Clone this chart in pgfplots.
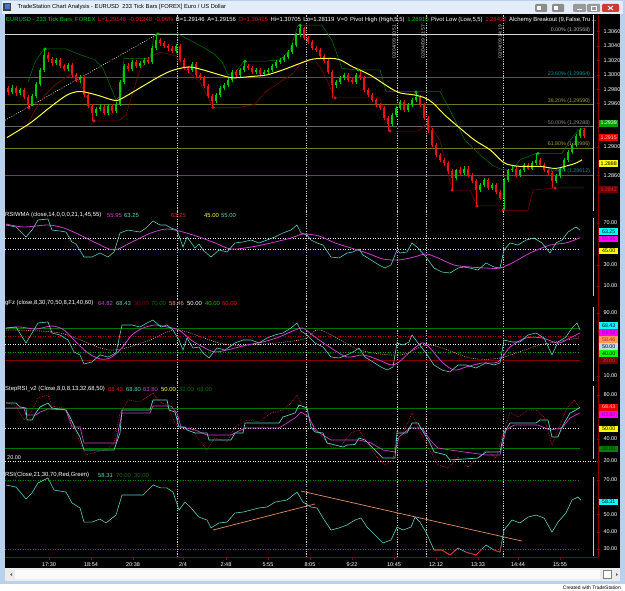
\documentclass[border=0pt]{standalone}
\usepackage{fontspec}
\setmainfont{Liberation Sans}
\usepackage{pgfplots}
\pgfplotsset{compat=1.18}
\usepackage{pgfplotstable}

\definecolor{tcyan}{RGB}{95,205,190}
\definecolor{tmag}{RGB}{205,60,205}
\definecolor{tyel}{RGB}{255,255,70}
\definecolor{tgreen}{RGB}{0,200,0}
\definecolor{tred}{RGB}{235,20,20}
\definecolor{dkgreen}{RGB}{0,115,0}
\definecolor{dkred}{RGB}{130,0,0}
\definecolor{axred}{RGB}{140,0,0}
\definecolor{fteal}{RGB}{0,115,115}
\definecolor{folive}{RGB}{115,115,40}
\definecolor{orng}{RGB}{235,150,100}
\definecolor{salmon}{RGB}{225,140,100}
\definecolor{framec}{RGB}{185,209,234}
\definecolor{tbar}{RGB}{228,237,247}
\definecolor{vline}{RGB}{200,200,200}
\definecolor{gfzred}{RGB}{180,0,0}
\definecolor{lgreen}{RGB}{0,170,0}
\definecolor{rsigreen}{RGB}{0,140,0}
\definecolor{dotred}{RGB}{200,30,30}
\definecolor{fib0}{RGB}{215,215,215}
\definecolor{fibt}{RGB}{0,150,150}
\definecolor{fibo}{RGB}{160,160,60}
\definecolor{bxgreen}{RGB}{0,160,0}
\definecolor{bxred}{RGB}{235,0,0}
\definecolor{bxredtxt}{RGB}{255,200,200}
\definecolor{bxyel}{RGB}{255,255,0}
\definecolor{bxdkred}{RGB}{110,0,0}
\definecolor{bxdkredtxt}{RGB}{200,50,50}
\definecolor{bxcyan}{RGB}{0,255,255}
\definecolor{bxmag}{RGB}{255,0,255}
\definecolor{bxmagtxt}{RGB}{120,0,120}
\definecolor{bxorg}{RGB}{255,150,90}
\definecolor{bxorgtxt}{RGB}{140,60,20}
\definecolor{bxlb}{RGB}{190,215,240}
\definecolor{bxlg}{RGB}{0,255,0}
\definecolor{bxg2}{RGB}{0,128,0}
\definecolor{bxg2txt}{RGB}{0,40,0}
\definecolor{iconblue}{RGB}{60,120,200}
\definecolor{closered}{RGB}{205,60,45}
\definecolor{scrollbg}{RGB}{236,236,236}
\definecolor{scrolltr}{RGB}{250,250,250}

\pgfplotstableread{
x o h l c
12 1.2976 1.2986 1.2973 1.2982
20 1.2975 1.2982 1.2972 1.2979
32 1.2959 1.2973 1.2957 1.2971
36 1.2971 1.2990 1.2968 1.2987
40 1.2987 1.3009 1.2984 1.3007
44 1.3007 1.3036 1.3004 1.3028
56 1.3016 1.3023 1.3014 1.3021
68 1.3008 1.3016 1.3005 1.3014
80 1.2993 1.3000 1.2989 1.2997
96 1.2947 1.2955 1.2943 1.2952
100 1.2952 1.2959 1.2950 1.2955
108 1.2947 1.2959 1.2944 1.2957
116 1.2950 1.2962 1.2947 1.2959
120 1.2959 1.2993 1.2957 1.2990
124 1.2990 1.3015 1.2987 1.3012
132 1.3008 1.3021 1.3005 1.3018
140 1.3012 1.3019 1.3009 1.3016
144 1.3016 1.3023 1.3014 1.3021
152 1.3018 1.3040 1.3015 1.3037
156 1.3037 1.3057 1.3035 1.3048
176 1.3033 1.3043 1.3030 1.3040
192 1.3007 1.3018 1.3004 1.3015
216 1.2964 1.2975 1.2961 1.2972
220 1.2972 1.2984 1.2969 1.2982
224 1.2982 1.2989 1.2979 1.2986
228 1.2986 1.2996 1.2983 1.2993
232 1.2993 1.3007 1.2990 1.3004
240 1.3000 1.3009 1.2997 1.3007
244 1.3007 1.3019 1.3004 1.3012
256 1.3004 1.3009 1.3001 1.3007
264 1.3001 1.3007 1.2998 1.3004
268 1.3004 1.3009 1.3001 1.3007
272 1.3007 1.3015 1.3004 1.3012
276 1.3012 1.3021 1.3009 1.3018
280 1.3018 1.3023 1.3015 1.3021
284 1.3021 1.3028 1.3018 1.3025
288 1.3025 1.3035 1.3022 1.3032
292 1.3032 1.3044 1.3029 1.3041
296 1.3041 1.3058 1.3039 1.3055
300 1.3055 1.3069 1.3053 1.3065
336 1.2986 1.2993 1.2982 1.2990
340 1.2990 1.2998 1.2987 1.2996
344 1.2996 1.3003 1.2993 1.3000
356 1.2990 1.3003 1.2987 1.3000
392 1.2932 1.2947 1.2929 1.2944
396 1.2944 1.2957 1.2941 1.2954
400 1.2954 1.2965 1.2951 1.2962
408 1.2951 1.2961 1.2948 1.2958
412 1.2958 1.2968 1.2955 1.2965
416 1.2965 1.2976 1.2962 1.2969
456 1.2857 1.2870 1.2854 1.2868
464 1.2864 1.2873 1.2861 1.2870
480 1.2840 1.2850 1.2837 1.2847
484 1.2847 1.2857 1.2844 1.2854
492 1.2843 1.2850 1.2840 1.2847
504 1.2829 1.2857 1.2812 1.2854
508 1.2854 1.2870 1.2851 1.2868
512 1.2868 1.2875 1.2865 1.2870
520 1.2861 1.2870 1.2858 1.2868
524 1.2868 1.2877 1.2865 1.2875
532 1.2870 1.2880 1.2868 1.2877
536 1.2877 1.2891 1.2875 1.2882
556 1.2852 1.2862 1.2850 1.2859
560 1.2859 1.2872 1.2857 1.2869
564 1.2869 1.2884 1.2866 1.2882
568 1.2882 1.2896 1.2879 1.2893
572 1.2893 1.2905 1.2890 1.2902
576 1.2902 1.2918 1.2900 1.2915
580 1.2915 1.2926 1.2912 1.2923
}\upbars

\pgfplotstableread{
x o h l c
8 1.2982 1.2984 1.2972 1.2976
16 1.2982 1.2984 1.2971 1.2975
24 1.2979 1.2982 1.2966 1.2969
28 1.2969 1.2972 1.2954 1.2959
48 1.3028 1.3032 1.3018 1.3022
52 1.3022 1.3025 1.3012 1.3016
60 1.3021 1.3023 1.3009 1.3012
64 1.3012 1.3015 1.3005 1.3008
72 1.3014 1.3016 1.2997 1.3000
76 1.3000 1.3003 1.2990 1.2993
84 1.2997 1.2998 1.2969 1.2972
88 1.2972 1.2975 1.2954 1.2957
92 1.2957 1.2959 1.2936 1.2947
104 1.2955 1.2958 1.2944 1.2947
112 1.2957 1.2959 1.2947 1.2950
128 1.3012 1.3016 1.3005 1.3008
136 1.3018 1.3021 1.3009 1.3012
148 1.3021 1.3025 1.3015 1.3018
160 1.3048 1.3051 1.3040 1.3044
164 1.3044 1.3047 1.3037 1.3040
168 1.3040 1.3043 1.3033 1.3037
172 1.3037 1.3040 1.3030 1.3033
180 1.3040 1.3043 1.3018 1.3021
184 1.3021 1.3023 1.3007 1.3009
188 1.3009 1.3012 1.3003 1.3007
196 1.3015 1.3018 1.2997 1.3000
200 1.3000 1.3003 1.2993 1.2996
204 1.2996 1.2998 1.2982 1.2984
208 1.2984 1.2987 1.2968 1.2971
212 1.2971 1.2973 1.2955 1.2964
236 1.3004 1.3007 1.2997 1.3000
248 1.3012 1.3015 1.3007 1.3009
252 1.3009 1.3012 1.3001 1.3004
260 1.3007 1.3009 1.2998 1.3001
304 1.3065 1.3066 1.3048 1.3051
308 1.3051 1.3054 1.3043 1.3046
312 1.3046 1.3048 1.3035 1.3037
316 1.3037 1.3040 1.3032 1.3035
320 1.3035 1.3037 1.3023 1.3026
324 1.3026 1.3029 1.3016 1.3019
328 1.3019 1.3022 1.3001 1.3004
332 1.3004 1.3007 1.2968 1.2986
348 1.3000 1.3003 1.2990 1.2993
352 1.2993 1.2996 1.2987 1.2990
360 1.3000 1.3007 1.2993 1.2996
364 1.2996 1.2998 1.2976 1.2979
368 1.2979 1.2982 1.2969 1.2972
372 1.2972 1.2975 1.2962 1.2965
376 1.2965 1.2968 1.2955 1.2958
380 1.2958 1.2961 1.2951 1.2954
384 1.2954 1.2957 1.2937 1.2940
388 1.2940 1.2943 1.2922 1.2932
404 1.2962 1.2965 1.2948 1.2951
420 1.2969 1.2972 1.2955 1.2958
424 1.2958 1.2961 1.2937 1.2940
428 1.2940 1.2943 1.2920 1.2923
432 1.2923 1.2926 1.2900 1.2902
436 1.2902 1.2905 1.2886 1.2889
440 1.2889 1.2891 1.2879 1.2882
444 1.2882 1.2884 1.2873 1.2877
448 1.2877 1.2880 1.2862 1.2866
452 1.2866 1.2869 1.2840 1.2857
460 1.2868 1.2872 1.2861 1.2864
468 1.2870 1.2873 1.2858 1.2861
472 1.2861 1.2864 1.2850 1.2852
476 1.2852 1.2855 1.2818 1.2840
488 1.2854 1.2857 1.2840 1.2843
496 1.2847 1.2850 1.2834 1.2837
500 1.2837 1.2840 1.2826 1.2829
516 1.2870 1.2873 1.2858 1.2861
528 1.2875 1.2877 1.2868 1.2870
540 1.2882 1.2884 1.2872 1.2875
544 1.2875 1.2877 1.2865 1.2868
548 1.2868 1.2870 1.2861 1.2864
552 1.2864 1.2866 1.2843 1.2852
584 1.2923 1.2926 1.2912 1.2915
}\downbars

\newcommand{\candles}[2]{%
\addplot[forget plot, draw=#2, line width=0.6pt, mark=none,
  quiver={u=0, v=\thisrow{h}-\thisrow{l}}] table[x=x, y=l] {#1};
\addplot[forget plot, draw=#2, line width=2.6pt, mark=none,
  quiver={u=0, v=\thisrow{c}-\thisrow{o}}] table[x=x, y=o] {#1};
}
\newcommand{\valbox}[4]{\node[anchor=west, fill=#2, text=#3, inner xsep=0.8pt, inner ysep=0pt,
  minimum width=19pt, minimum height=6.8pt, font=\fontsize{5.3}{5.5}\selectfont] at (axis cs:599,#1) {#4};}
\newcommand{\hl}[3]{\addplot[#3, forget plot] coordinates {(5,#1) (#2,#1)};}

\pgfplotsset{
  panel/.style={
    scale only axis, width=592pt, xmin=5, xmax=597, clip=false,
    anchor=north west,
    axis line style={draw=none},
    xtick=\empty, xtick pos=bottom, ytick pos=right,
    yticklabel pos=right,
    tick align=outside, major tick length=3pt,
    tick style={draw=axred, line width=0.5pt},
    yticklabel style={font=\fontsize{5.5}{6}\selectfont, text=white,
      /pgf/number format/fixed, /pgf/number format/fixed zerofill, /pgf/number format/precision=2},
    /pgf/number format/assume math mode=true,
    scaled y ticks=false,
    extra x ticks={177,306,397,426,503}, extra x tick labels={},
    extra x tick style={grid=major, major tick length=0pt},
    major grid style={draw=vline, dash pattern=on 1.2pt off 1.2pt, line width=0.5pt},
  },
}

\begin{document}
\begin{tikzpicture}[font=\fontsize{5.5}{6}\selectfont]
\begin{scope}[x=1pt,y=-1pt]
  \fill[framec] (0,0) rectangle (625,591);
  \fill[tbar] (2,1) rectangle (623,14);
  \fill[black] (5,14) rectangle (620,568);
\end{scope}

% ---------------- price panel ----------------
\begin{axis}[panel, at={(5pt,-15pt)}, height=196pt, ymin=1.28110, ymax=1.30832,
  ytick={1.2860,1.2900,1.2960,1.2980,1.3000,1.3020,1.3040,1.3060},
  yticklabel style={/pgf/number format/precision=4}]
  \hl{1.30568}{593}{draw=fib0, line width=0.6pt}
  \hl{1.29964}{593}{draw=fteal, line width=0.6pt}
  \hl{1.29590}{593}{draw=folive, line width=0.6pt}
  \hl{1.29288}{593}{draw=black!60!white, line width=0.6pt}
  \hl{1.28986}{593}{draw=folive, line width=0.6pt}
  \hl{1.28612}{593}{draw=fteal, line width=0.6pt}
  \addplot[vline, line width=0.6pt, forget plot] coordinates {(593,1.2811) (593,1.3083)};
  \addplot[white, dash pattern=on 1pt off 1.5pt, line width=0.5pt] coordinates {(5,1.2937) (158,1.3057)};
  % Alchemy breakout bands
  \addplot[dkgreen, line width=0.5pt] coordinates {(28,1.2990) (35,1.3018) (44,1.3036) (66,1.3036) (80,1.3028) (95,1.3021) (103,1.3009) (110,1.2986) (116,1.2965) (121,1.2972) (124,1.3023) (150,1.3023) (154,1.3054) (156,1.3057) (178,1.3057) (190,1.3048) (205,1.3037) (215,1.3028) (222,1.3018) (228,1.3000) (235,1.3003) (244,1.3019) (265,1.3019) (280,1.3021) (290,1.3035) (298,1.3069) (322,1.3069) (332,1.3048) (342,1.3009) (358,1.3007) (380,1.3007) (386,1.2977) (440,1.2977) (450,1.2951) (465,1.2909) (480,1.2889) (492,1.2875) (502,1.2868) (512,1.2868) (520,1.2882) (536,1.2891) (562,1.2891) (570,1.2909) (578,1.2923) (584,1.2926)};
  \addplot[dkred, line width=0.5pt] coordinates {(25,1.2923) (35,1.2951) (45,1.2972) (55,1.2986) (65,1.2996) (72,1.3000) (80,1.2990) (88,1.2965) (94,1.2936) (118,1.2936) (126,1.2944) (132,1.2972) (140,1.3007) (148,1.3023) (160,1.3032) (176,1.3026) (182,1.3012) (200,1.2990) (213,1.2955) (240,1.2955) (255,1.2959) (265,1.2976) (280,1.2990) (292,1.3001) (302,1.3018) (316,1.3018) (322,1.3007) (335,1.2968) (380,1.2968) (390,1.2922) (418,1.2922) (428,1.2934) (440,1.2909) (452,1.2840) (470,1.2840) (477,1.2818) (503,1.2818) (505,1.2812) (528,1.2812) (533,1.2840) (555,1.2843) (584,1.2843)};
  \candles{\downbars}{tred}
  \candles{\upbars}{tgreen}
  \addplot[tyel, line width=1pt, smooth] coordinates {(7,1.2913) (30,1.2933) (50,1.2955) (67,1.2972) (80,1.2977) (97,1.2972) (113,1.2965) (120,1.2966) (140,1.2982) (157,1.2996) (170,1.3005) (180,1.3009) (190,1.3011) (203,1.3007) (220,1.3000) (233,1.2996) (253,1.2998) (267,1.3000) (283,1.3007) (300,1.3016) (313,1.3022) (330,1.3023) (340,1.3021) (353,1.3011) (370,1.3000) (390,1.2982) (400,1.2975) (415,1.2972) (425,1.2968) (433,1.2961) (445,1.2944) (460,1.2926) (475,1.2909) (490,1.2896) (503,1.2879) (510,1.2875) (520,1.2873) (540,1.2873) (555,1.2870) (565,1.2873) (575,1.2877) (582,1.2882)};
  \addplot[only marks, mark=*, mark size=1.3pt, tgreen] coordinates {(45,1.3036) (158,1.3057) (245,1.3019) (300,1.3069) (358,1.3007) (416,1.2976) (538,1.2891)};
  \addplot[only marks, mark=*, mark size=1.3pt, tred] coordinates {(29,1.2954) (94,1.2936) (213,1.2955) (335,1.2968) (390,1.2922) (452,1.2840) (477,1.2818) (503,1.2812) (555,1.2843)};
  \begin{scope}[font=\fontsize{5.3}{5.5}\selectfont, inner sep=0.8pt]
  \node[anchor=south east, text=black!30!white] at (axis cs:591,1.30568) {0.00\% (1.30568)};
  \node[anchor=south east, text=fibt] at (axis cs:591,1.29964) {23.60\% (1.29964)};
  \node[anchor=south east, text=fibo] at (axis cs:591,1.29590) {38.20\% (1.29590)};
  \node[anchor=south east, text=black!45!white] at (axis cs:591,1.29288) {50.00\% (1.29288)};
  \node[anchor=south east, text=fibo] at (axis cs:591,1.28986) {61.80\% (1.28986)};
  \node[anchor=south east, text=fibt] at (axis cs:591,1.28612) {76.40\% (1.28612)};
  \end{scope}
  \valbox{1.2933}{bxgreen}{white}{1.2939}
  \valbox{1.2913}{bxred}{bxredtxt}{1.2915}
  \valbox{1.2877}{bxyel}{black}{1.2888}
  \valbox{1.2841}{bxdkred}{bxdkredtxt}{1.2842}
\end{axis}

% ---------------- RSIWMA ----------------
\begin{axis}[panel, at={(5pt,-211pt)}, height=88pt, ymin=-2.38, ymax=81.43, ytick={10,30,70}]
  \hl{55}{580}{white, dash pattern=on 1pt off 1.5pt, line width=0.6pt}
  \hl{45}{580}{tyel, dash pattern=on 1pt off 1.5pt, line width=0.6pt}
  \addplot[vline, line width=0.6pt, forget plot] coordinates {(593,0) (593,75)};
  \addplot[tmag, line width=0.8pt, smooth] coordinates {(6,69.0) (24,66.2) (48,68.1) (64,65.2) (80,58.6) (96,51.0) (114,44.3) (132,51.9) (151,60.5) (167,64.3) (183,61.4) (199,56.7) (215,51.0) (231,45.2) (251,47.1) (271,51.0) (291,55.7) (303,59.5) (319,57.6) (335,51.0) (351,46.2) (367,41.4) (383,35.7) (399,34.8) (414,37.6) (426,40.5) (438,36.7) (454,30.0) (470,28.1) (486,27.1) (500,27.1) (514,32.9) (530,41.4) (550,49.0) (566,51.0) (580,55.95)};
  \addplot[tcyan, line width=0.6pt] coordinates {(6,68.1) (16,66.2) (26,56.7) (32,63.3) (38,72.9) (48,73.8) (52,63.3) (60,62.4) (66,61.4) (72,51.9) (76,50.0) (84,37.6) (92,37.6) (100,41.4) (108,37.6) (114,42.4) (120,60.5) (128,63.3) (140,61.4) (146,65.2) (153,71.9) (160,68.1) (166,68.1) (171,65.2) (177,63.3) (183,47.1) (187,56.7) (195,46.2) (199,50.0) (203,44.3) (211,37.6) (219,44.3) (227,42.4) (235,51.0) (243,51.9) (251,53.8) (259,51.0) (267,53.8) (275,56.7) (283,60.5) (291,63.3) (297,68.1) (301,60.5) (307,58.6) (311,53.8) (317,51.0) (323,49.0) (331,37.6) (339,36.7) (347,41.4) (353,42.4) (359,45.2) (363,39.5) (371,34.8) (379,30.0) (385,27.1) (391,30.0) (397,44.3) (400,41.4) (407,42.4) (412,51.0) (418,46.2) (426,37.6) (434,27.1) (442,23.3) (450,22.4) (458,27.1) (464,28.1) (470,27.1) (478,25.2) (486,31.9) (494,28.1) (500,27.1) (504,44.3) (510,51.0) (518,49.0) (526,53.8) (534,55.7) (542,51.0) (550,41.4) (556,51.0) (562,53.8) (568,61.4) (576,66.2) (580,63.25)};
  \valbox{61.6}{bxcyan}{black}{63.25}
  \valbox{54.8}{bxmag}{bxmagtxt}{55.95}
  \valbox{43.3}{bxyel}{black}{45.00}
\end{axis}

% ---------------- gFz ----------------
\begin{axis}[panel, at={(5pt,-299pt)}, height=83pt, ymin=2.38, ymax=107.78, ytick={10,90}]
  \hl{70}{580}{dkgreen, line width=0.6pt}
  \hl{60}{580}{gfzred, dash pattern=on 1pt off 1.5pt, line width=0.6pt}
  \hl{50}{580}{white, dash pattern=on 1pt off 1.5pt, line width=0.6pt}
  \hl{40}{580}{lgreen, dash pattern=on 1pt off 1.5pt, line width=0.6pt}
  \hl{30}{580}{dkred, line width=0.6pt}
  \addplot[vline, line width=0.6pt, forget plot] coordinates {(593,4) (593,98)};
  \addplot[orng, dash pattern=on 1pt off 1.2pt, line width=0.6pt, smooth] coordinates {(6,68.4) (60,64.6) (110,43.0) (150,55.7) (178,68.4) (230,49.4) (300,55.7) (320,68.4) (360,43.0) (400,36.7) (430,49.4) (470,32.9) (500,32.9) (540,49.4) (580,58.46)};
  \addplot[tmag, line width=0.8pt, smooth] coordinates {(6,70.9) (20,72.2) (36,69.7) (52,73.5) (64,68.4) (76,53.2) (88,39.2) (100,31.6) (110,32.9) (120,43.0) (132,62.1) (143,70.9) (155,74.8) (167,72.2) (179,68.4) (191,55.7) (203,46.8) (215,40.5) (231,44.3) (247,49.4) (263,53.2) (279,59.5) (295,68.4) (303,70.9) (315,59.5) (331,45.6) (347,34.1) (363,36.7) (379,30.3) (391,24.0) (399,27.8) (410,40.5) (422,51.9) (430,45.6) (442,27.8) (454,17.6) (466,21.4) (482,26.5) (498,27.8) (510,46.8) (526,58.3) (542,58.3) (558,51.9) (570,58.3) (580,64.82)};
  \addplot[tcyan, line width=0.6pt] coordinates {(6,70.9) (16,72.2) (26,51.9) (32,64.6) (38,77.3) (48,78.6) (52,64.6) (60,62.1) (68,55.7) (74,40.5) (80,36.7) (84,25.2) (92,27.8) (100,36.7) (108,34.1) (116,39.2) (122,74.8) (132,74.8) (140,72.2) (147,77.3) (153,81.1) (161,72.2) (167,74.8) (173,68.4) (179,55.7) (183,43.0) (187,58.3) (193,45.6) (199,46.8) (203,39.2) (209,32.9) (217,45.6) (225,43.0) (235,51.9) (243,55.7) (251,55.7) (259,51.9) (267,58.3) (275,62.1) (283,64.6) (291,70.9) (297,77.3) (301,67.1) (307,62.1) (315,51.9) (323,46.8) (331,34.1) (339,32.9) (347,36.7) (353,40.5) (359,45.6) (365,34.1) (373,27.8) (381,21.4) (387,17.6) (393,21.4) (397,51.9) (403,49.4) (409,53.2) (412,62.1) (418,51.9) (426,39.2) (434,24.0) (442,17.6) (450,15.1) (458,24.0) (466,24.0) (476,20.2) (486,26.5) (494,24.0) (500,26.5) (504,55.7) (512,53.2) (520,53.2) (528,62.1) (536,64.6) (544,58.3) (552,36.7) (558,53.2) (566,59.5) (572,70.9) (577,77.3) (580,68.43)};
  \valbox{74.1}{bxcyan}{black}{68.43}
  \valbox{65.2}{bxmag}{bxmagtxt}{64.82}
  \valbox{56.3}{bxorg}{bxorgtxt}{58.46}
  \valbox{47.5}{bxlb}{black}{50.00}
  \valbox{38.6}{bxlg}{black}{40.00}
  \valbox{29.7}{bxdkred}{bxdkredtxt}{30.00}
\end{axis}

% ---------------- StepRSI ----------------
\begin{axis}[panel, at={(5pt,-382pt)}, height=88pt, ymin=11.82, ymax=91.82, ytick={20,40,80}]
  \hl{68}{580}{dkgreen, line width=0.6pt}
  \hl{32}{580}{dkgreen, line width=0.6pt}
  \hl{50}{580}{white, dash pattern=on 1pt off 1.5pt, line width=0.6pt}
  \hl{20}{597}{white, dash pattern=on 1pt off 1.5pt, line width=0.6pt}
  \addplot[vline, line width=0.6pt, forget plot] coordinates {(593,22) (593,88)};
  \addplot[dotred, dash pattern=on 0.8pt off 1pt, line width=0.6pt] coordinates {(6,73.6) (16,70) (24,57.3) (32,66) (38,77.3) (48,80.0) (52,70) (64,68) (72,54.5) (82,32.7) (86,25.5) (96,28.2) (106,30.0) (114,36.4) (120,63.6) (128,75.5) (140,73.6) (153,81.8) (160,73.6) (167,70.9) (175,54.5) (183,48.2) (191,50.9) (199,39.1) (207,30.0) (215,40.9) (227,37.3) (235,50.9) (247,57.3) (259,55.5) (271,63.6) (283,66.4) (291,72.7) (297,80.0) (303,69.1) (311,54.5) (319,45.5) (331,32.7) (339,31.8) (351,45.5) (359,48.2) (367,36.4) (377,23.6) (385,16.4) (393,20.9) (397,48.2) (403,45) (412,63.6) (418,50.9) (428,32.7) (438,16.4) (448,13.6) (458,23.6) (468,14.5) (478,22.7) (486,30.0) (496,22.7) (502,41.8) (510,64.5) (518,60.0) (528,66.4) (536,66.4) (544,60.0) (552,34.5) (558,48.2) (566,66.4) (574,75.5) (580,68.43)};
  \addplot[tmag, line width=0.7pt] coordinates {(6,68.2) (24,68.2) (26,61.8) (36,61.8) (40,64.5) (48,67.3) (66,66.4) (72,50.9) (80,50.9) (84,36.4) (116,36.4) (122,63.6) (150,63.6) (153,70.0) (171,70.0) (177,63.6) (181,50.9) (195,48.2) (207,43.6) (231,43.6) (235,45.5) (245,50.0) (279,50.0) (287,54.5) (295,59.1) (301,64.5) (309,60.0) (315,48.2) (331,39.1) (359,39.1) (371,36.4) (383,30.0) (395,28.2) (399,41.8) (410,50.0) (422,50.0) (430,39.1) (438,31.8) (450,30.0) (486,25.5) (500,25.5) (506,48.2) (514,52.7) (538,52.7) (550,48.2) (562,50.0) (570,59.1) (580,63.8)};
  \addplot[tcyan, line width=0.7pt] coordinates {(6,72.7) (16,72.7) (20,69.1) (26,68.2) (27,57.3) (32,57.3) (36,64) (40,69.1) (48,72.7) (52,68.2) (66,66.4) (70,60) (76,48.2) (80,41.8) (84,30.0) (114,30.0) (120,45.5) (122,66.4) (150,66.4) (153,75.5) (167,75.5) (169,66.4) (175,64.5) (179,50.9) (185,50.9) (187,48.2) (195,45.5) (207,45.5) (209,39.1) (231,39.1) (235,45.5) (243,45.5) (245,54.5) (279,54.5) (283,60.0) (295,63.6) (299,70.9) (307,68.2) (311,50.9) (315,46.4) (323,45.5) (327,36.4) (343,32.7) (347,34.5) (355,35) (359,40.9) (365,39.1) (373,31.8) (383,22.7) (395,22.7) (397,45.5) (407,45.5) (412,54.5) (418,54.5) (422,48.2) (430,36.4) (434,28.2) (446,25.5) (450,20.9) (478,22.7) (486,28.2) (500,28.2) (504,45.5) (510,54.5) (536,54.5) (540,57.3) (548,57.3) (552,41.8) (558,41.8) (562,50.9) (570,63.6) (576,66.4) (580,68.8)};
  \valbox{69.0}{bxred}{bxredtxt}{68.43}
  \valbox{62.5}{bxmag}{bxmagtxt}{63.80}
  \valbox{49.1}{bxyel}{black}{50.00}
  \valbox{30.9}{bxg2}{bxg2txt}{32.00}
\end{axis}

% ---------------- RSI ----------------
\begin{axis}[panel, at={(5pt,-470pt)}, height=87pt, ymin=25.36, ymax=75.80, ytick={30,40,50,70},
  xtick={49,91,133,183,226,268,310,352,394,436,478,518,560},
  xticklabels={17:30,18:54,20:38,2/4,2:48,5:55,8:05,9:22,10:45,12:12,13:33,14:44,15:55},
  xticklabel style={font=\fontsize{5.5}{6}\selectfont, text=white, yshift=1pt}]
  \hl{70}{580}{rsigreen, dash pattern=on 1pt off 1.5pt, line width=0.6pt}
  \hl{30}{580}{rsigreen, dash pattern=on 1pt off 1.5pt, line width=0.6pt}
  \addplot[vline, line width=0.6pt, forget plot] coordinates {(593,26) (593,72)};
  \addplot[salmon, line width=0.7pt] coordinates {(213,41.0) (315,56.1)};
  \addplot[salmon, line width=0.7pt] coordinates {(301,63.6) (522,34.6)};
  \addplot[tcyan, line width=0.6pt] coordinates {(6,67.1) (16,65.9) (26,59.0) (32,62.5) (38,68.3) (48,71.2) (54,64.2) (66,63.0) (72,56.7) (80,53.8) (84,45.6) (92,45.6) (100,47.4) (106,45.1) (116,49.7) (122,61.3) (132,61.3) (143,61.3) (153,67.1) (161,65.4) (167,65.4) (173,63.0) (179,52.6) (185,57.2) (191,53.8) (199,48.5) (207,46.8) (211,42.2) (219,45.1) (227,45.6) (235,50.9) (243,51.4) (251,52.6) (259,53.8) (267,54.3) (275,57.2) (287,58.4) (297,63.0) (303,57.2) (311,54.3) (317,53.8) (323,48.0) (331,41.0) (339,42.2) (347,43.9) (355,46.8) (361,48.0) (367,42.7) (375,38.1) (383,33.5) (391,35.2) (397,42.7) (403,41.0) (411,42.7) (415,48.5) (420,45.6) (426,39.8) (434,29.4) (442,29.4) (450,26.5) (458,30.6) (466,28.2) (476,26.5) (486,32.3) (494,29.4) (500,28.2) (504,41.0) (512,46.8) (520,45.1) (528,48.5) (536,49.7) (544,48.0) (552,39.8) (558,45.6) (566,50.9) (572,58.4) (578,60.1) (581,58.3)};
  \addplot[tred, line width=0.6pt] coordinates {(434,29.4) (442,29.4) (450,26.5) (456,29.8)};
  \addplot[tred, line width=0.6pt] coordinates {(466,28.2) (476,26.5) (482,30.0)};
  \addplot[tred, line width=0.6pt] coordinates {(492,29.8) (494,29.4) (500,28.2) (502,34.0)};
  \valbox{57.2}{bxcyan}{black}{58.31}
\end{axis}

\begin{scope}[x=1pt,y=-1pt]
  % axis lines
  \draw[axred, line width=0.7pt] (598,15) -- (598,557);
  \draw[axred, line width=0.7pt] (5,557) -- (598,557);
  % header line
  \node[anchor=west, inner sep=0pt, font=\fontsize{5.9}{6.5}\selectfont] at (6,20) {%
    \textcolor{tgreen}{EURUSD - 233 Tick Bars\hspace{3pt}FOREX}\hspace{2.6pt}%
    \textcolor{tred}{L=1.29146\hspace{2.6pt}-0.01248\hspace{2.6pt}-0.96\%}\hspace{2.6pt}%
    \textcolor{white}{B=1.29146\hspace{2.6pt}A=1.29156}\hspace{2.6pt}%
    \textcolor{tred}{O=1.30415}\hspace{2.6pt}%
    \textcolor{white}{Hi=1.30705\hspace{2.6pt}Lo=1.28119\hspace{2.6pt}V=0\hspace{2.6pt}Pivot High (High,5,5)}\hspace{2.6pt}%
    \textcolor{tgreen}{1.28910}\hspace{2.6pt}%
    \textcolor{white}{Pivot Low (Low,5,5)}\hspace{2.6pt}%
    \textcolor{tred}{1.28422}\hspace{2.6pt}%
    \textcolor{white}{Alchemy Breakout (9,False,Tru ...}};
  % panel titles
  \begin{scope}[font=\fontsize{5.9}{6.5}\selectfont, inner sep=0pt]
  \node[anchor=west, text=white] at (5,215) {RSIWMA (close,14,0,0,0,21,1,45,55)};
  \node[anchor=west, text=tmag] at (107,215) {55.95};
  \node[anchor=west, text=tcyan] at (124,215) {63.25};
  \node[anchor=west, text=tred] at (171,215) {63.25};
  \node[anchor=west, text=tyel] at (204,215) {45.00};
  \node[anchor=west, text=tcyan] at (221,215) {55.00};

  \node[anchor=west, text=white] at (5,303) {gFz (close,8,30,70,50,8,21,40,60)};
  \node[anchor=west, text=tmag] at (98,303) {64.82};
  \node[anchor=west, text=tcyan] at (116,303) {68.43};
  \node[anchor=west, text=dkred] at (134,303) {30.00};
  \node[anchor=west, text=dkgreen] at (151,303) {70.00};
  \node[anchor=west, text=orng] at (169,303) {58.46};
  \node[anchor=west, text=white] at (187,303) {50.00};
  \node[anchor=west, text=tgreen] at (205,303) {40.00};
  \node[anchor=west, text=tred] at (222,303) {60.00};

  \node[anchor=west, text=white] at (5,389) {StepRSI\_v2 (Close,8,0,8,13,32,68,50)};
  \node[anchor=west, text=tred] at (108,389) {68.43};
  \node[anchor=west, text=tcyan] at (126,389) {68.80};
  \node[anchor=west, text=tmag] at (143,389) {63.80};
  \node[anchor=west, text=tyel] at (161,389) {50.00};
  \node[anchor=west, text=dkgreen] at (179,389) {32.00};
  \node[anchor=west, text=dkgreen] at (197,389) {68.00};

  \node[anchor=west, text=white] at (5,475) {RSI(Close,21,30,70,Red,Green)};
  \node[anchor=west, text=tcyan] at (98,475) {58.31};
  \node[anchor=west, text=dkgreen] at (116,475) {70.00};
  \node[anchor=west, text=dkgreen] at (134,475) {30.00};
  \end{scope}
  \node[anchor=west, text=white, inner sep=0pt, font=\fontsize{5.5}{6}\selectfont] at (7,458) {20.00};
  % rotated time stamps
  \begin{scope}[font=\fontsize{5}{5.5}\selectfont, inner sep=0pt, text=black!25!white]
  \node[rotate=90, anchor=east] at (394,25) {02/04/09 10:51};
  \node[rotate=90, anchor=east] at (423,25) {02/04/09 11:57};
  \node[rotate=90, anchor=east] at (500,25) {02/04/09 14:19};
  \end{scope}
  % window chrome
  \fill[black!75] (3,3) rectangle (11,11);
  \fill[iconblue] (4.5,4.5) rectangle (9.5,9.5);
  \node[anchor=west, font=\fontsize{5.8}{6}\selectfont, text=black] at (14,7.5) {TradeStation Chart Analysis - EURUSD \ 233 Tick Bars [FOREX] Euro / US Dollar};
  \foreach \a/\b in {535/547,552/564}{
    \fill[black!45, rounded corners=1pt] (\a,4) rectangle (\b,12);
    \fill[white] (\a+2,6) rectangle (\a+6,10);}
  \fill[black!40, rounded corners=1pt] (573,4) rectangle (586,12);
  \fill[black!40, rounded corners=1pt] (587,4) rectangle (600,12);
  \fill[closered, rounded corners=1pt] (602,4) rectangle (619,12);
  \draw[white, line width=0.8pt] (577,9.5) -- (582,9.5);
  \draw[white, line width=0.6pt] (591,6) rectangle (596,10);
  \draw[white, line width=0.9pt] (608,6) -- (613,10) (608,10) -- (613,6);
  % scrollbar
  \fill[scrollbg] (5,568) rectangle (620,581);
  \fill[scrolltr] (15,570) rectangle (600,579);
  \fill[black!60] (10,574.5) -- (12,573) -- (12,576) -- cycle;
  \draw[black!50, fill=white] (603,570) rectangle (611,578);
  \fill[black!60] (616,573) -- (618,574.5) -- (616,576) -- cycle;
  \fill[white] (0,584) rectangle (625,591);
  \node[anchor=east, font=\fontsize{5}{5.5}\selectfont, text=black, inner sep=0pt] at (621,588) {Created with TradeStation};
\end{scope}
\pgfresetboundingbox
\useasboundingbox (0pt,0pt) rectangle (625pt,-591pt);
\end{tikzpicture}
\end{document}
